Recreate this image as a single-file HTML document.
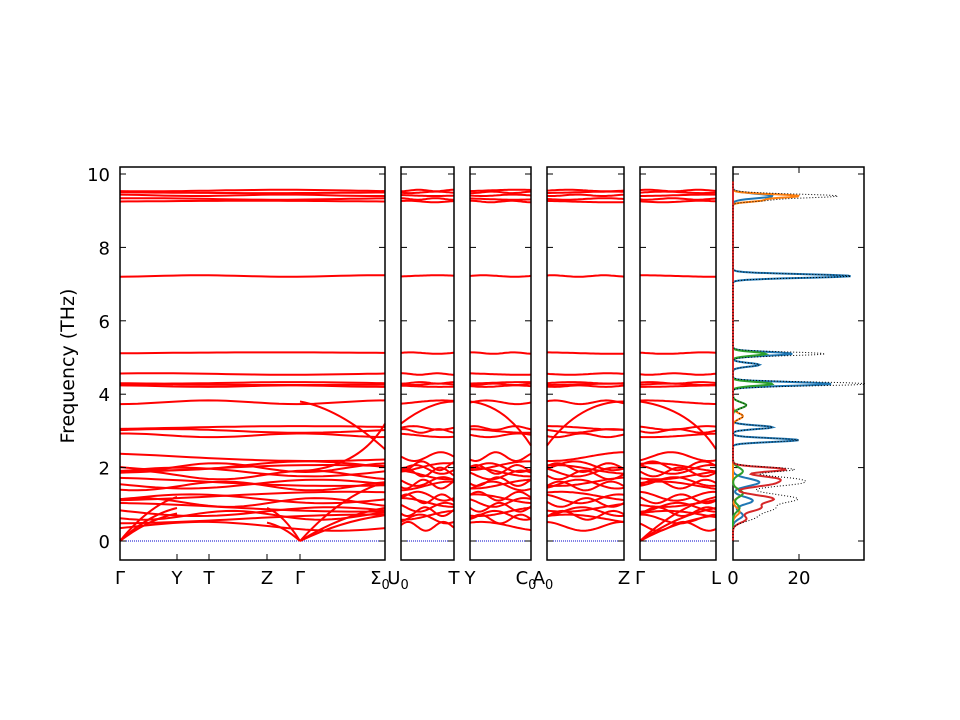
<!DOCTYPE html>
<html><head><meta charset="utf-8">
<style>html,body{margin:0;padding:0;background:#fff}svg{display:block}text{font-family:"DejaVu Sans","Liberation Sans",sans-serif;font-size:18px;fill:#000}</style>
</head><body>
<svg id="s" width="960" height="720" xmlns="http://www.w3.org/2000/svg"></svg>
<script>
const S=document.getElementById('s');let h='';
const Y=f=>541-36.7*f;
const panels=[[120,385],[401,454],[470,531],[547,624],[640,716]];
const flat=[9.25,9.32,9.42,9.5,9.55,7.22,5.12,4.55,4.22,4.27,4.31,3.78,3.08,3.0,2.88,2.3,2.05,2.0,1.95,1.88,1.8,1.62,1.55,1.5,1.22,1.15,1.05,0.92,0.8,0.7,0.6,0.4];
function band(x0,x1,f,seed,amp){let d='';for(let i=0;i<=30;i++){const t=i/30,x=x0+(x1-x0)*t;const v=f+amp*Math.sin(t*Math.PI*(1+seed%3)+seed);d+=(i?'L':'M')+x.toFixed(1)+','+Y(v).toFixed(1);}return '<path d="'+d+'" fill="none" stroke="red" stroke-width="2"/>';}
panels.forEach((p,pi)=>{
 flat.forEach((f,i)=>{const amp=f<2.4?0.12:(f<4?0.05:0.02);h+=band(p[0],p[1],f,i+pi*7,amp);});
 h+='<line x1="'+p[0]+'" y1="541" x2="'+p[1]+'" y2="541" stroke="#00c" stroke-width="1" stroke-dasharray="1,1"/>';
});
[[120,0,177,0.75],[120,0,177,1.2],[120,0,177,0.9],[300,0,267,0.9],[300,0,267,0.5],[300,0,385,0.9],[300,0,385,1.6],[300,0,385,0.7],[640,0,716,0.9],[640,0,716,0.7],[640,0,716,1.2]].forEach(a=>{h+='<path d="M'+a[0]+','+Y(a[1])+' Q'+((a[0]+a[2])/2)+','+Y(a[3]*0.8)+' '+a[2]+','+Y(a[3])+'" fill="none" stroke="red" stroke-width="2"/>';});
h+='<path d="M300,'+Y(3.8)+' Q340,'+Y(3.6)+' 385,'+Y(2.5)+'" fill="none" stroke="red" stroke-width="2"/>';
h+='<path d="M300,'+Y(1.9)+' Q360,'+Y(2.0)+' 385,'+Y(3.2)+'" fill="none" stroke="red" stroke-width="2"/>';
h+='<path d="M401,'+Y(3.2)+' Q430,'+Y(3.8)+' 454,'+Y(3.8)+'" fill="none" stroke="red" stroke-width="2"/>';
h+='<path d="M470,'+Y(3.8)+' Q505,'+Y(3.7)+' 531,'+Y(2.6)+'" fill="none" stroke="red" stroke-width="2"/>';
h+='<path d="M547,'+Y(2.6)+' Q580,'+Y(3.8)+' 624,'+Y(3.8)+'" fill="none" stroke="red" stroke-width="2"/>';
h+='<path d="M640,'+Y(3.8)+' Q690,'+Y(3.6)+' 716,'+Y(2.5)+'" fill="none" stroke="red" stroke-width="2"/>';
const yl=[0,2,4,6,8,10];
panels.concat([[733,864]]).forEach(p=>{h+='<rect x="'+p[0]+'" y="167" width="'+(p[1]-p[0])+'" height="393" fill="none" stroke="#000" stroke-width="1.5"/>';
 yl.forEach(v=>{h+='<line x1="'+p[0]+'" y1="'+Y(v)+'" x2="'+(p[0]+6)+'" y2="'+Y(v)+'" stroke="#000"/><line x1="'+p[1]+'" y1="'+Y(v)+'" x2="'+(p[1]-6)+'" y2="'+Y(v)+'" stroke="#000"/>';});});
yl.forEach(v=>{h+='<text x="110" y="'+(Y(v)+7)+'" text-anchor="end">'+v+'</text>';});
h+='<text transform="translate(74,366) rotate(-90)" text-anchor="middle" style="font-size:19px">Frequency (THz)</text>';
[177,209,267,300].forEach(x=>{h+='<line x1="'+x+'" y1="560" x2="'+x+'" y2="554" stroke="#000"/>';});
const xl=[[120,'Γ'],[177,'Y'],[209,'T'],[267,'Z'],[300,'Γ'],[380,'Σ','0'],[398,'U','0'],[454,'T'],[470,'Y'],[526,'C','0'],[543,'A','0'],[624,'Z'],[640,'Γ'],[716,'L'],[733,'0'],[799,'20']];
xl.forEach(a=>{h+='<text x="'+a[0]+'" y="584" text-anchor="middle">'+a[1]+(a[2]?'<tspan dy="5" style="font-size:13px">'+a[2]+'</tspan>':'')+'</text>';});
h+='<line x1="799" y1="560" x2="799" y2="554" stroke="#000"/><line x1="799" y1="167" x2="799" y2="173" stroke="#000"/>';
const comps={blue:[[9.4,12,.06],[7.22,36,.05],[5.1,18,.05],[4.8,8,.05],[4.28,30,.05],[3.1,12,.05],[2.75,20,.05],[1.6,8,.1],[1.1,6,.1],[0.7,3,.1]],
orange:[[9.4,20,.05],[9.28,8,.04],[3.4,3,.08],[1.3,3,.1],[0.8,2,.1]],
green:[[5.1,10,.05],[4.28,12,.05],[3.7,4,.08],[1.9,3,.1],[1.3,3,.1],[0.9,2,.1]],
red:[[1.95,16,.06],[1.7,12,.08],[1.55,10,.08],[1.15,12,.1],[0.9,8,.1],[0.6,4,.1]]};
const col={blue:'#1f77b4',orange:'#ff7f0e',green:'#2ca02c',red:'#d62728'};
const g=(c,f)=>c.reduce((s,k)=>s+k[1]*Math.exp(-((f-k[0])**2)/(2*k[2]*k[2])),0);
let tot='';const paths={blue:'',orange:'',green:'',red:''};
for(let i=0;i<=500;i++){const f=i*9.8/500;let t=0;for(const k in comps){const v=g(comps[k],f);t+=v;paths[k]+=(i?'L':'M')+(733+3.3*v).toFixed(1)+','+Y(f).toFixed(1);}tot+=(i?'L':'M')+(733+3.3*Math.min(t,40)).toFixed(1)+','+Y(f).toFixed(1);}
for(const k in paths)h+='<path d="'+paths[k]+'" fill="none" stroke="'+col[k]+'" stroke-width="2"/>';
h+='<path d="'+tot+'" fill="none" stroke="#000" stroke-width="1" stroke-dasharray="1,2"/>';
S.innerHTML=h;
</script>
</body></html>
